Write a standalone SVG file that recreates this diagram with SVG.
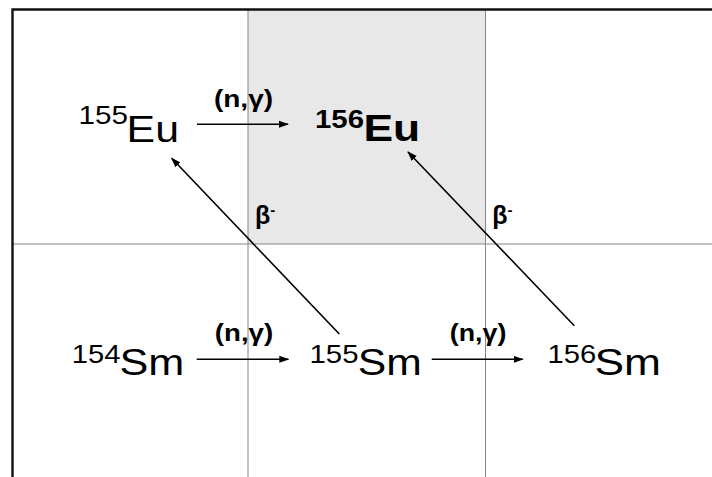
<svg xmlns="http://www.w3.org/2000/svg" width="712" height="477" viewBox="0 0 712 477">
<defs>
<style>
text{font-family:"Liberation Sans",Arial,sans-serif;fill:#000}
.big{font-size:37px}
.sup{font-size:25px}
.lbl{font-size:23px;font-weight:bold}
.beta{font-size:25px;font-weight:bold}
.b{font-weight:bold}
.grid{stroke:#858585;stroke-width:1;fill:none}
.frame{stroke:#111;stroke-width:2.4;fill:none}
.arr{stroke:#000;stroke-width:1.6;fill:none;marker-end:url(#ah)}
</style>
<marker id="ah" markerUnits="userSpaceOnUse" markerWidth="10" markerHeight="8" refX="9" refY="4" orient="auto">
<path d="M0,0.5 L10,4 L0,7.5 z" fill="#000"/>
</marker>
</defs>
<rect x="0" y="0" width="712" height="477" fill="#fff"/>
<rect x="248" y="9" width="237.5" height="235" fill="#e8e8e8"/>
<g id="grid">
<line class="grid" x1="248" y1="9" x2="248" y2="477"/>
<line class="grid" x1="485.5" y1="9" x2="485.5" y2="477"/>
<line class="grid" x1="12" y1="244" x2="712" y2="244"/>
</g>
<g id="frame">
<path class="frame" d="M12.5,477 L12.5,9.5 L712,9.5"/>
</g>
<g id="connectors">
<line class="arr" x1="197" y1="124.3" x2="288" y2="124.3"/>
<line class="arr" x1="196.7" y1="359.3" x2="288.3" y2="359.3"/>
<line class="arr" x1="431.7" y1="359.3" x2="522.7" y2="359.3"/>
<line class="arr" x1="339.3" y1="334" x2="171.7" y2="158.3"/>
<line class="arr" x1="574.3" y1="325.7" x2="408" y2="152"/>
<text class="lbl" x="214" y="107" textLength="59" lengthAdjust="spacingAndGlyphs">(n,γ)</text>
<text class="lbl" x="214.8" y="341.3" textLength="58.4" lengthAdjust="spacingAndGlyphs">(n,γ)</text>
<text class="lbl" x="449.8" y="341.3" textLength="56.6" lengthAdjust="spacingAndGlyphs">(n,γ)</text>
<text class="beta" x="255" y="224">β<tspan font-size="15" dy="-9">-</tspan></text>
<text class="beta" x="492.3" y="224">β<tspan font-size="15" dy="-9">-</tspan></text>
</g>
<g id="eu155">
<text class="sup" x="78.5" y="124.3" textLength="49.4" lengthAdjust="spacingAndGlyphs">155</text>
<text class="big" x="126.6" y="141.7" textLength="52.4" lengthAdjust="spacingAndGlyphs">Eu</text>
</g>
<g id="eu156">
<text class="sup b" x="315" y="127.7" textLength="49" lengthAdjust="spacingAndGlyphs">156</text>
<text class="big b" x="363.5" y="140.7" textLength="56.7" lengthAdjust="spacingAndGlyphs">Eu</text>
</g>
<g id="sm154">
<text class="sup" x="71.8" y="363.3" textLength="48.6" lengthAdjust="spacingAndGlyphs">154</text>
<text class="big" x="119.5" y="374.5" textLength="64.8" lengthAdjust="spacingAndGlyphs">Sm</text>
</g>
<g id="sm155">
<text class="sup" x="309.5" y="363" textLength="49" lengthAdjust="spacingAndGlyphs">155</text>
<text class="big" x="357.8" y="374.5" textLength="64" lengthAdjust="spacingAndGlyphs">Sm</text>
</g>
<g id="sm156">
<text class="sup" x="547.5" y="363.3" textLength="48.6" lengthAdjust="spacingAndGlyphs">156</text>
<text class="big" x="594.5" y="374.5" textLength="66.5" lengthAdjust="spacingAndGlyphs">Sm</text>
</g>
</svg>
